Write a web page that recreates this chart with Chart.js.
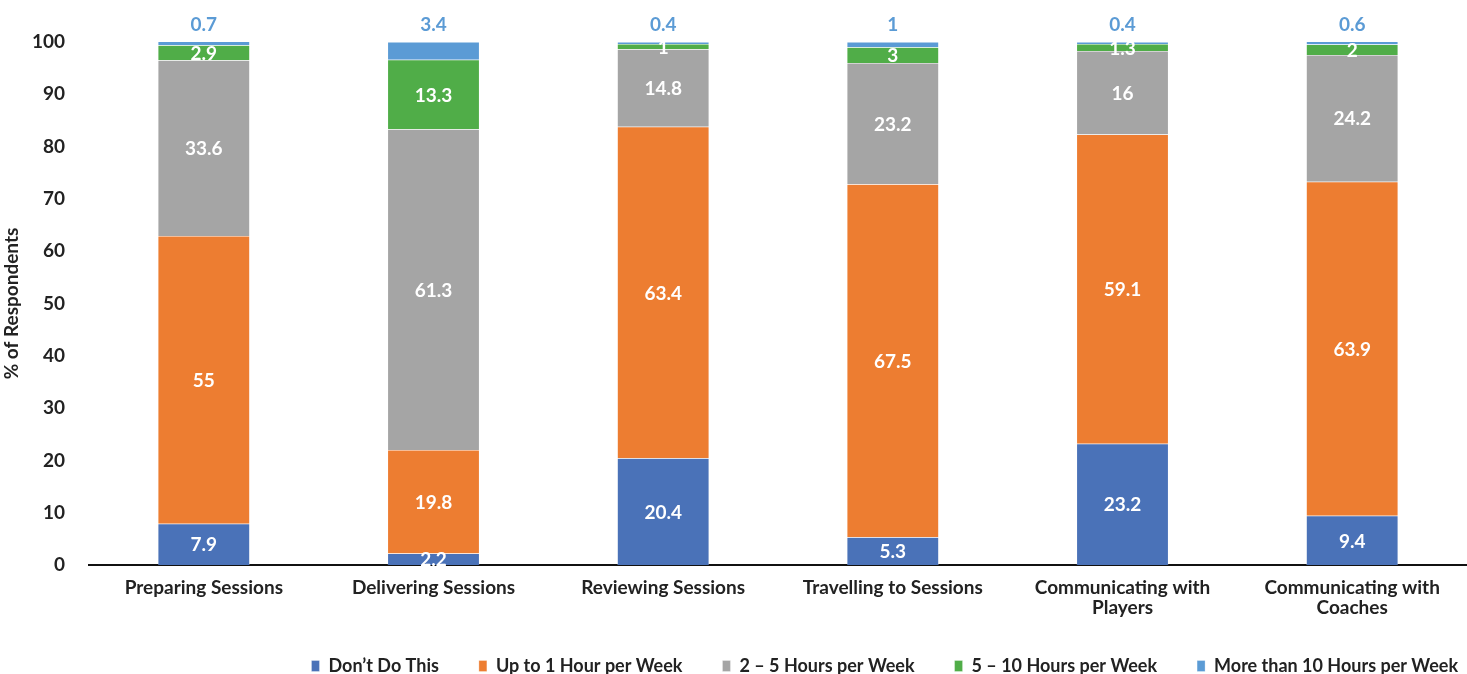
<!DOCTYPE html>
<html>
<head>
<meta charset="utf-8">
<script src="https://cdn.jsdelivr.net/npm/chart.js@4"></script>
<style>
    html, body { margin: 0; padding: 0; background: #fff; overflow: hidden; }
    #wrap { width: 1467px; height: 674px; overflow: hidden; }
    #box { width: 1467px; height: 685px; }
</style>
</head>
<body>
<div id="wrap"><div id="box"><canvas id="grafico"></canvas></div></div>
<script>
const categorias = [
    'Preparing Sessions',
    'Delivering Sessions',
    'Reviewing Sessions',
    'Travelling to Sessions',
    ['Communicating with', 'Players'],
    ['Communicating with', 'Coaches']
];
const nomesSeries = ['Don\u2019t Do This', 'Up to 1 Hour per Week', '2 \u2013 5 Hours per Week', '5 \u2013 10 Hours per Week', 'More than 10 Hours per Week'];
const naoFaz = [7.9, 2.2, 20.4, 5.3, 23.2, 9.4];
const ateUmaHora = [55, 19.8, 63.4, 67.5, 59.1, 63.9];
const duasACinco = [33.6, 61.3, 14.8, 23.2, 16, 24.2];
const cincoADez = [2.9, 13.3, 1, 3, 1.3, 2];
const maisDeDez = [0.7, 3.4, 0.4, 1, 0.4, 0.6];
const marcasY = [0, 10, 20, 30, 40, 50, 60, 70, 80, 90, 100];

const cores = ['#4a72b8', '#ed7d31', '#a5a5a5', '#50ad48', '#5b9bd5'];
const valores = [naoFaz, ateUmaHora, duasACinco, cincoADez, maisDeDez];
const fonte = 'Lato, "Open Sans", sans-serif';

// rótulos de valor desenhados à mão (sem plugin datalabels)
const rotulos = {
    id: 'rotulos',
    afterDatasetsDraw(chart) {
        const ctx = chart.ctx;
        ctx.save();
        ctx.font = 'bold 19px ' + fonte;
        ctx.textAlign = 'center';
        ctx.textBaseline = 'middle';
        chart.data.datasets.forEach((ds, i) => {
            const meta = chart.getDatasetMeta(i);
            meta.data.forEach((bar, j) => {
                const p = bar.getProps(['x', 'y', 'base'], true);
                const v = ds.data[j];
                if (i == valores.length - 1) {
                    ctx.fillStyle = '#5b9bd5';
                    ctx.fillText(v, p.x, p.y - 17);
                } else {
                    ctx.fillStyle = '#ffffff';
                    ctx.fillText(v, p.x, (p.y + p.base) / 2 + 1);
                }
            });
        });
        ctx.restore();
    }
};

// empurra a legenda até a borda direita, como no original
const legendaDireita = {
    id: 'legendaDireita',
    afterLayout(chart) {
        chart.legend.left += 31;
        chart.legend.right += 31;
    }
};

new Chart(document.getElementById('grafico').getContext('2d'), {
    type: 'bar',
    data: {
        labels: categorias,
        datasets: nomesSeries.map((nome, i) => ({
            label: nome,
            data: valores[i],
            backgroundColor: cores[i],
            borderColor: 'rgba(255,255,255,0.6)',
            borderWidth: 0.5,
            barPercentage: 0.4,
            categoryPercentage: 1,
            clip: false
        }))
    },
    options: {
        responsive: true,
        maintainAspectRatio: false,
        animation: false,
        layout: { padding: { top: 42, left: 0, right: 0, bottom: 0 } },
        plugins: {
            tooltip: { enabled: false },
            legend: {
                position: 'bottom',
                align: 'end',
                labels: {
                    color: '#222',
                    font: { family: fonte, size: 18, weight: 'bold' },
                    boxWidth: 8,
                    boxHeight: 11,
                    padding: 40
                }
            }
        },
        scales: {
            x: {
                stacked: true,
                grid: { display: false },
                border: { display: true, color: '#111', width: 2 },
                ticks: {
                    color: '#222',
                    font: { family: fonte, size: 19, weight: 'bold', lineHeight: 1.1 },
                    padding: 4,
                    maxRotation: 0
                },
                afterFit(scale) { scale.height = 52; }
            },
            y: {
                stacked: true,
                min: 0,
                max: 100,
                afterBuildTicks(scale) { scale.ticks = marcasY.map(v => ({ value: v })); },
                grid: { display: false },
                border: { display: false },
                ticks: {
                    color: '#222',
                    font: { family: fonte, size: 19, weight: 'bold' },
                    padding: 16
                },
                title: {
                    display: true,
                    text: '% of Respondents',
                    color: '#222',
                    font: { family: fonte, size: 19, weight: 'bold' },
                    padding: 0
                },
                afterFit(scale) { scale.width = 89; }
            }
        }
    },
    plugins: [rotulos, legendaDireita]
});
</script>
</body>
</html>
